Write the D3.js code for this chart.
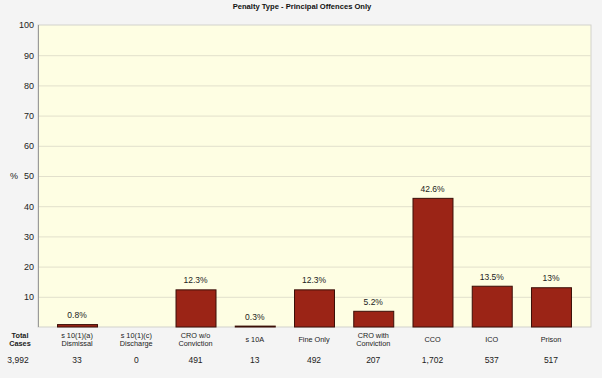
<!DOCTYPE html>
<html lang="en">
<head>
<meta charset="UTF-8">
<title>Penalty Type - Principal Offences Only</title>
<style>
  body { margin: 0; background: #f4f4f4; }
  svg { display: block; font-family: "Liberation Sans", Arial, sans-serif; }
</style>
</head>
<body>
<script src="https://d3js.org/d3.v7.min.js"></script>
<script>
// chart data
const categories = [
  ["s 10(1)(a)", "Dismissal"],
  ["s 10(1)(c)", "Discharge"],
  ["CRO w/o", "Conviction"],
  ["s 10A"],
  ["Fine Only"],
  ["CRO with", "Conviction"],
  ["CCO"],
  ["ICO"],
  ["Prison"]
];
const percents = [0.8, 0, 12.3, 0.3, 12.3, 5.2, 42.6, 13.5, 13];
const pctLabels = ["0.8%", "", "12.3%", "0.3%", "12.3%", "5.2%", "42.6%", "13.5%", "13%"];
const caseCounts = ["33", "0", "491", "13", "492", "207", "1,702", "537", "517"];
const totalCases = "3,992";
const yTicks = [10, 20, 30, 40, 50, 60, 70, 80, 90, 100];

const W = 602, H = 378;
const plot = { left: 38, right: 591, top: 25, bottom: 327 };

const svg = d3.select("body").append("svg")
  .attr("width", W)
  .attr("height", H);

svg.append("rect").attr("width", W).attr("height", H).attr("fill", "#f4f4f4");

const y = d3.scaleLinear().domain([0, 100]).range([plot.bottom, plot.top]);
const x = d3.scaleBand()
  .domain(d3.range(categories.length))
  .range([47.4, 580.6])
  .paddingInner(0.325)
  .paddingOuter(0.1625);

// plot background
svg.append("rect")
  .attr("x", plot.left).attr("y", plot.top)
  .attr("width", plot.right - plot.left).attr("height", plot.bottom - plot.top)
  .attr("fill", "#fefee3")
  .attr("stroke", "#d2d2cc").attr("stroke-width", 1);

// gridlines
svg.append("g")
  .selectAll("line")
  .data(yTicks.slice(0, -1))
  .join("line")
  .attr("x1", plot.left).attr("x2", plot.right)
  .attr("y1", d => y(d) + 0.5).attr("y2", d => y(d) + 0.5)
  .attr("stroke", "#e2e0cc");

// left axis line
svg.append("line")
  .attr("x1", plot.left + 0.5).attr("x2", plot.left + 0.5)
  .attr("y1", plot.top).attr("y2", plot.bottom)
  .attr("stroke", "#9a9a9a");

// y tick labels
const yAxis = svg.append("g")
  .attr("transform", `translate(${plot.left},0)`)
  .call(d3.axisLeft(y).tickValues(yTicks).tickSize(0).tickPadding(4));
yAxis.select(".domain").remove();
yAxis.selectAll("text")
  .attr("font-size", 9)
  .attr("fill", "#222");

svg.append("text")
  .attr("x", 14).attr("y", y(50) + 3)
  .attr("font-size", 9).attr("fill", "#222")
  .attr("text-anchor", "middle")
  .text("%");

// bars
svg.append("g")
  .selectAll("rect")
  .data(percents)
  .join("rect")
  .attr("x", (d, i) => x(i) + 0.5)
  .attr("y", d => y(d))
  .attr("width", x.bandwidth())
  .attr("height", d => y(0) - y(d))
  .attr("fill", "#9b2416")
  .attr("stroke", "#3b0f08")
  .attr("stroke-width", 1)
  .attr("display", d => d > 0 ? null : "none");

// value labels
svg.append("g")
  .selectAll("text")
  .data(pctLabels)
  .join("text")
  .attr("x", (d, i) => x(i) + x.bandwidth() / 2)
  .attr("y", (d, i) => y(percents[i]) - 6.5)
  .attr("text-anchor", "middle")
  .attr("font-size", 8.5)
  .attr("fill", "#222")
  .text(d => d);

// category labels
const catG = svg.append("g");
categories.forEach((lines, i) => {
  const t = catG.append("text")
    .attr("x", x(i) + x.bandwidth() / 2)
    .attr("y", lines.length > 1 ? 338 : 342)
    .attr("text-anchor", "middle")
    .attr("font-size", 7.3)
    .attr("fill", "#222");
  lines.forEach((l, j) => {
    t.append("tspan")
      .attr("x", x(i) + x.bandwidth() / 2)
      .attr("dy", j === 0 ? 0 : 8.4)
      .text(l);
  });
});

// case counts
svg.append("g")
  .selectAll("text")
  .data(caseCounts)
  .join("text")
  .attr("x", (d, i) => x(i) + x.bandwidth() / 2)
  .attr("y", 363)
  .attr("text-anchor", "middle")
  .attr("font-size", 8.5)
  .attr("fill", "#222")
  .text(d => d);

// total cases column
const tc = svg.append("text")
  .attr("x", 20).attr("y", 338)
  .attr("text-anchor", "middle")
  .attr("font-size", 7.3)
  .attr("font-weight", "bold")
  .attr("fill", "#222");
tc.append("tspan").attr("x", 20).attr("dy", 0).text("Total");
tc.append("tspan").attr("x", 20).attr("dy", 8.4).text("Cases");

svg.append("text")
  .attr("x", 18).attr("y", 363)
  .attr("text-anchor", "middle")
  .attr("font-size", 8.5)
  .attr("fill", "#222")
  .text(totalCases);

// title
svg.append("text")
  .attr("x", 302).attr("y", 9)
  .attr("text-anchor", "middle")
  .attr("font-size", 7.6)
  .attr("font-weight", "bold")
  .attr("fill", "#111")
  .text("Penalty Type - Principal Offences Only");
</script>
</body>
</html>
